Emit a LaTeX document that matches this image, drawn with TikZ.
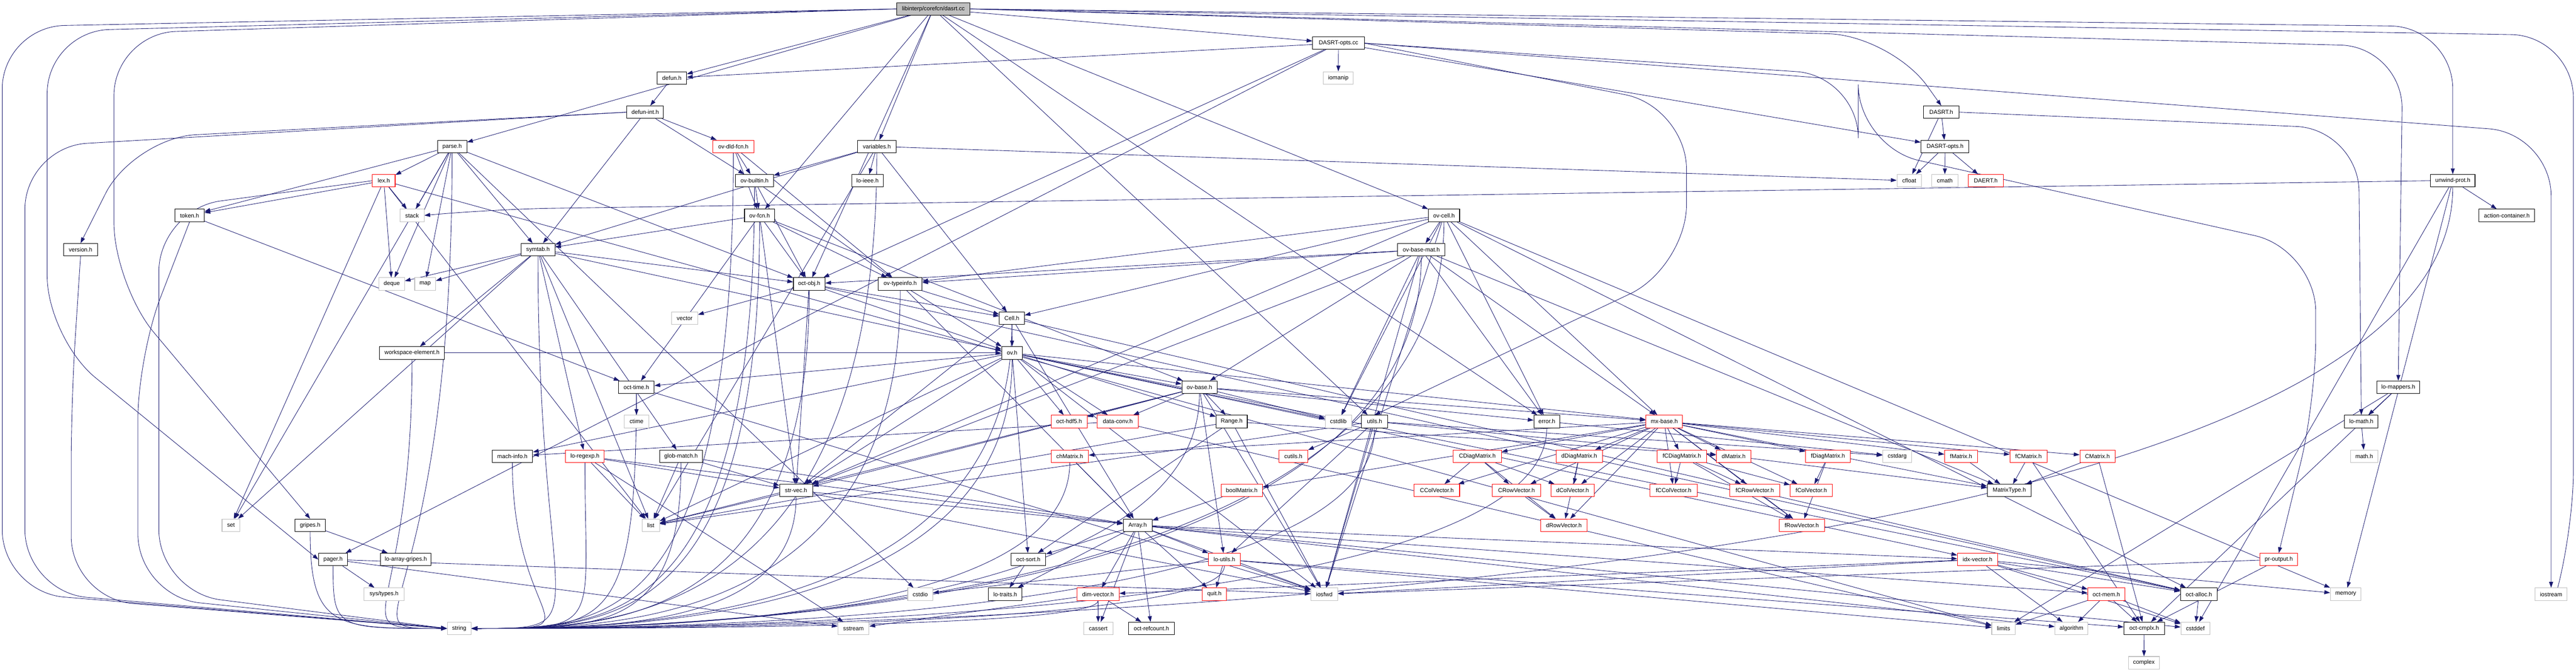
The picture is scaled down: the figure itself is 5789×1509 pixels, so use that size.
\documentclass[tikz,border=0pt]{standalone}
\usepackage{fontspec}
\setmainfont{Liberation Sans}
\usetikzlibrary{arrows.meta}
\pgfdeclarelayer{background}
\pgfsetlayers{background,main}
\definecolor{edgeblue}{HTML}{191970}
\definecolor{extgray}{HTML}{BFBFBF}
\tikzset{
  nbox/.style={draw=black, line width=1.2pt, fill=white, minimum height=28pt, inner sep=0pt, font=\fontsize{13}{15}\selectfont},
  extbox/.style={nbox, draw=extgray},
  redbox/.style={nbox, draw=red},
  rootbox/.style={nbox, fill=extgray},
  edge/.style={draw=edgeblue, line width=1pt, -{Triangle[length=13pt,width=9pt]}},
  route/.style={edge, rounded corners=140pt},
}
\newcommand\gnode[6]{\node[#1, minimum width={(#4-#3)*1pt}] (#2) at ({(#3+#4)/2},-#5) {#6};}
\newcommand\links[2]{\foreach \tgt in {#2}{\draw[edge] (#1) -- (\tgt);}}
\newcommand\tostr[3]{\foreach \src in {#1}{\draw[edge] (\src.south) .. controls (\src.south |- string.#2) and ([xshift=#3pt]string.#2) .. (string.#2);}}
\begin{document}
\begin{tikzpicture}[x=1pt,y=1pt]
\useasboundingbox (0,0) rectangle (5789,-1509);
\gnode{rootbox}{root}{2015}{2180}{20}{libinterp/corefcn/dasrt.cc}
\gnode{nbox}{dopcc}{2950}{3066}{97}{DASRT-opts.cc}
\gnode{nbox}{defun}{1477}{1543}{175}{defun.h}
\gnode{extbox}{iomanip}{2974}{3041}{175}{iomanip}
\gnode{nbox}{defunint}{1409}{1491}{252}{defun-int.h}
\gnode{nbox}{dasrth}{4323}{4402}{252}{DASRT.h}
\gnode{nbox}{parse}{983}{1049}{329}{parse.h}
\gnode{redbox}{ovdld}{1602}{1694}{329}{ov-dld-fcn.h}
\gnode{nbox}{variables}{1927}{2014}{329}{variables.h}
\gnode{nbox}{dasrtopts}{4317}{4425}{329}{DASRT-opts.h}
\gnode{redbox}{lex}{837}{888}{406}{lex.h}
\gnode{nbox}{ovbuiltin}{1653}{1738}{406}{ov-builtin.h}
\gnode{nbox}{loieee}{1914}{1985}{406}{lo-ieee.h}
\gnode{extbox}{cfloat}{4263}{4318}{406}{cfloat}
\gnode{extbox}{cmath}{4341}{4400}{406}{cmath}
\gnode{redbox}{daert}{4423}{4502}{406}{DAERT.h}
\gnode{nbox}{unwind}{5462}{5562}{406}{unwind-prot.h}
\gnode{nbox}{token}{393}{459}{484}{token.h}
\gnode{extbox}{stack}{899}{953}{484}{stack}
\gnode{nbox}{ovfcn}{1673}{1741}{484}{ov-fcn.h}
\gnode{nbox}{ovcell}{3210}{3280}{484}{ov-cell.h}
\gnode{nbox}{actioncont}{5571}{5696}{484}{action-container.h}
\gnode{nbox}{version}{143}{219}{561}{version.h}
\gnode{nbox}{symtab}{1171}{1247}{561}{symtab.h}
\gnode{nbox}{ovbasemat}{3141}{3247}{561}{ov-base-mat.h}
\gnode{extbox}{deque}{852}{909}{638}{deque}
\gnode{extbox}{map}{932}{979}{638}{map}
\gnode{nbox}{octobj}{1783}{1854}{638}{oct-obj.h}
\gnode{nbox}{ovtypeinfo}{1974}{2072}{638}{ov-typeinfo.h}
\gnode{extbox}{vector}{1509}{1568}{715}{vector}
\gnode{nbox}{cell}{2246}{2302}{715}{Cell.h}
\gnode{nbox}{wselem}{853}{999}{793}{workspace-element.h}
\gnode{nbox}{ov}{2251}{2298}{793}{ov.h}
\gnode{nbox}{octtime}{1390}{1470}{870}{oct-time.h}
\gnode{nbox}{ovbase}{2656}{2735}{870}{ov-base.h}
\gnode{nbox}{lomappers}{5341}{5438}{870}{lo-mappers.h}
\gnode{extbox}{ctime}{1403}{1458}{947}{ctime}
\gnode{redbox}{octhdf5}{2362}{2443}{947}{oct-hdf5.h}
\gnode{redbox}{dataconv}{2466}{2558}{947}{data-conv.h}
\gnode{nbox}{range}{2733}{2803}{947}{Range.h}
\gnode{extbox}{cstdlib}{2978}{3037}{947}{cstdlib}
\gnode{nbox}{utils}{3060}{3118}{947}{utils.h}
\gnode{nbox}{error}{3447}{3505}{947}{error.h}
\gnode{redbox}{mxbase}{3699}{3781}{947}{mx-base.h}
\gnode{nbox}{lomath}{5269}{5344}{947}{lo-math.h}
\gnode{nbox}{machinfo}{1106}{1197}{1025}{mach-info.h}
\gnode{redbox}{loregexp}{1271}{1358}{1025}{lo-regexp.h}
\gnode{nbox}{globmatch}{1482}{1579}{1025}{glob-match.h}
\gnode{redbox}{chmatrix}{2362}{2446}{1025}{chMatrix.h}
\gnode{redbox}{cutils}{2874}{2939}{1025}{cutils.h}
\gnode{redbox}{cdiag}{3266}{3374}{1025}{CDiagMatrix.h}
\gnode{redbox}{ddiag}{3497}{3601}{1025}{dDiagMatrix.h}
\gnode{redbox}{fcdiag}{3724}{3835}{1025}{fCDiagMatrix.h}
\gnode{redbox}{dmatrix}{3857}{3935}{1025}{dMatrix.h}
\gnode{redbox}{fdiag}{4058}{4158}{1025}{fDiagMatrix.h}
\gnode{extbox}{cstdarg}{4231}{4296}{1025}{cstdarg}
\gnode{redbox}{fmatrix}{4370}{4444}{1025}{fMatrix.h}
\gnode{redbox}{fcmatrix}{4517}{4600}{1025}{fCMatrix.h}
\gnode{redbox}{cmatrix}{4674}{4753}{1025}{CMatrix.h}
\gnode{extbox}{mathh}{5282}{5344}{1025}{math.h}
\gnode{nbox}{strvec}{1752}{1826}{1102}{str-vec.h}
\gnode{redbox}{boolmatrix}{2744}{2837}{1102}{boolMatrix.h}
\gnode{redbox}{ccol}{3178}{3280}{1102}{CColVector.h}
\gnode{redbox}{crow}{3354}{3462}{1102}{CRowVector.h}
\gnode{redbox}{dcol}{3485}{3583}{1102}{dColVector.h}
\gnode{redbox}{fccol}{3708}{3814}{1102}{fCColVector.h}
\gnode{redbox}{fcrow}{3887}{4000}{1102}{fCRowVector.h}
\gnode{redbox}{fcol}{4023}{4118}{1102}{fColVector.h}
\gnode{nbox}{matrixtype}{4466}{4565}{1102}{MatrixType.h}
\gnode{extbox}{set}{499}{539}{1180}{set}
\gnode{nbox}{gripes}{663}{731}{1180}{gripes.h}
\gnode{extbox}{list}{1443}{1482}{1180}{list}
\gnode{nbox}{array}{2524}{2589}{1180}{Array.h}
\gnode{redbox}{drow}{3462}{3567}{1180}{dRowVector.h}
\gnode{redbox}{frow}{3998}{4100}{1180}{fRowVector.h}
\gnode{nbox}{pager}{716}{781}{1257}{pager.h}
\gnode{nbox}{loarraygripes}{855}{969}{1257}{lo-array-gripes.h}
\gnode{nbox}{octsort}{2272}{2350}{1257}{oct-sort.h}
\gnode{redbox}{loutils}{2716}{2787}{1257}{lo-utils.h}
\gnode{redbox}{idxvector}{4399}{4489}{1257}{idx-vector.h}
\gnode{redbox}{proutput}{5079}{5163}{1257}{pr-output.h}
\gnode{extbox}{systypes}{818}{908}{1335}{sys/types.h}
\gnode{extbox}{cstdio}{2040}{2096}{1335}{cstdio}
\gnode{nbox}{lotraits}{2221}{2297}{1335}{lo-traits.h}
\gnode{redbox}{dimvector}{2420}{2515}{1335}{dim-vector.h}
\gnode{redbox}{quit}{2702}{2756}{1335}{quit.h}
\gnode{extbox}{iosfwd}{2946}{3006}{1335}{iosfwd}
\gnode{redbox}{octmem}{4692}{4775}{1335}{oct-mem.h}
\gnode{nbox}{octalloc}{4900}{4983}{1335}{oct-alloc.h}
\gnode{extbox}{memory}{5237}{5306}{1335}{memory}
\gnode{extbox}{iostream}{5697}{5769}{1335}{iostream}
\gnode{extbox}{string}{1005}{1059}{1412}{string}
\gnode{extbox}{sstream}{1883}{1953}{1412}{sstream}
\gnode{extbox}{cassert}{2435}{2501}{1412}{cassert}
\gnode{nbox}{octrefcount}{2536}{2639}{1412}{oct-refcount.h}
\gnode{extbox}{limits}{4476}{4529}{1412}{limits}
\gnode{extbox}{algorithm}{4618}{4692}{1412}{algorithm}
\gnode{nbox}{octcmplx}{4773}{4864}{1412}{oct-cmplx.h}
\gnode{extbox}{cstddef}{4901}{4966}{1412}{cstddef}
\gnode{extbox}{complex}{4783}{4853}{1489}{complex}
\begin{pgfonlayer}{background}
% long routed connectors
\draw[route] (root.west) -- (5,-60) -- (5,-1330) -- (string.west);
\draw[route] (root.west) -- (106,-70) -- (106,-760) -- (pager.west);
\draw[route] (root.west) -- (256,-75) -- (256,-640) -- (gripes.north);
\draw[route] (defunint.west) -- (56,-330) -- (56,-1330) -- (string.west);
\draw[route] (defunint.west) -- (300,-310) -- (version.north);
\draw[route] (lex.west) -- (357,-470) -- (357,-1330) -- (string.west);
\draw[route] (token.south) -- (310,-800) -- (310,-1340) -- (string.west);
\draw[route] (version.south) -- (160,-900) -- (160,-1345) -- (string.west);
\draw[route] (root.east) -- (5512,-60) -- (unwind.north);
\draw[route] (root.east) -- (5783,-80) -- (5783,-1200) -- ([xshift=15pt]iostream.north);
\draw[route] (dopcc.east) -- (5733,-300) -- (iostream.north);
\draw[route] (root.east) -- (5400,-105) -- (lomappers.north);
\draw[route] (root.east) -- (4250,-80) -- (dasrth.north);
\draw[route] (dasrth.east) -- (5300,-290) -- (lomath.north);
\draw[route] (dopcc.east) -- (4176,-170) -- (4176,-330) -- (5204,-560) -- (5204,-900) -- (proutput.north);
\draw[route] (dopcc.east) -- (3790,-240) -- (3790,-600) -- (utils.north);
\draw[route] (unwind.west) -- (1100,-470) -- (stack.east);
% connectors into string
\tostr{parse,wselem,gripes,pager}{west}{-250}
\tostr{ovdld,variables,ovbuiltin,ovfcn,ovcell,symtab,ovbasemat,octobj,ovtypeinfo,cell,ov,octtime,ovbase,utils,error,machinfo,loregexp,globmatch,chmatrix,strvec,loutils,dimvector,unwind}{east}{300}
% plain connectors
\links{root}{defun,error,octobj,ovfcn,ovcell,parse,utils,variables,dopcc}
\links{dopcc}{iomanip,dasrtopts,defun,octobj,pager}
\links{defun}{defunint}
\links{defunint}{ovdld,ovbuiltin,symtab}
\links{dasrth}{cfloat,dasrtopts}
\links{parse}{lex,token,stack,deque,map,set,cstdio,symtab,octobj}
\links{ovdld}{ovbuiltin,ovfcn,ovtypeinfo}
\links{variables}{loieee,ovbuiltin,cfloat,symtab,list,cell}
\links{dasrtopts}{cfloat,cmath,daert}
\links{lex}{token,stack,deque,set,list,limits}
\links{ovbuiltin}{ovfcn,ovtypeinfo,octobj}
\links{unwind}{actioncont,cstddef,memory}
\links{token}{octtime}
\links{ovfcn}{symtab,octobj,ovtypeinfo,octtime,strvec,ovbase}
\links{ovcell}{ovbasemat,cell,ovtypeinfo,strvec,mxbase,error,octalloc,memory,cstdlib,iosfwd}
\links{symtab}{deque,map,set,list,globmatch,loregexp,octobj,ov,wselem}
\links{ovbasemat}{mxbase,strvec,matrixtype,error,octobj,ovbase,ovtypeinfo,cstdlib,iosfwd}
\links{octobj}{vector,octalloc,strvec,cell,ov}
\links{ovtypeinfo}{cell,array,ov}
\links{cell}{array,octalloc,strvec,ov}
\links{wselem}{ov}
\links{ov}{cstdlib,iosfwd,list,range,dataconv,idxvector,machinfo,mxbase,octalloc,octtime,strvec,octhdf5,octsort,ovbase}
\links{octtime}{ctime,iosfwd}
\links{ovbase}{cstdlib,iosfwd,list,range,dataconv,mxbase,strvec,error,octhdf5,loutils}
\links{lomappers}{lomath,octcmplx,limits}
\links{dataconv}{machinfo,limits}
\links{range}{octsort,dmatrix,iosfwd,list}
\links{utils}{cutils,iosfwd,list,cstdarg,dmatrix,loutils}
\links{error}{cstdarg}
\links{mxbase}{matrixtype,boolmatrix,chmatrix,dcol,drow,dmatrix,ddiag,ccol,crow,cmatrix,cdiag,fcol,frow,fmatrix,fdiag,fccol,fcrow,fcmatrix,fcdiag}
\links{lomath}{mathh}
\links{loregexp}{list,sstream,strvec,array}
\links{globmatch}{strvec,array,list}
\links{chmatrix}{array}
\links{cdiag}{ccol,crow,dcol,drow}
\links{ddiag}{dcol,drow}
\links{fcdiag}{fccol,fcrow,fcol,frow}
\links{dmatrix}{matrixtype}
\links{fdiag}{fcol,frow}
\links{fmatrix}{matrixtype}
\links{fcmatrix}{matrixtype,octcmplx}
\links{cmatrix}{matrixtype,octcmplx}
\links{strvec}{iosfwd,list,array}
\links{boolmatrix}{array}
\links{crow}{drow}
\links{fcrow}{frow}
\links{gripes}{loarraygripes}
\links{array}{cassert,cstddef,algorithm,iosfwd,dimvector,idxvector,lotraits,loutils,octsort,quit,octmem,octrefcount}
\links{pager}{iosfwd,sstream,systypes}
\links{octsort}{lotraits}
\links{loutils}{cstdio,iosfwd,limits,quit,octcmplx}
\links{idxvector}{cstddef,algorithm,iosfwd,memory,dimvector,octalloc,octmem}
\links{proutput}{iosfwd,octcmplx}
\links{dimvector}{cassert,sstream,octrefcount}
\links{octmem}{cstddef,limits,algorithm,octcmplx}
\links{octalloc}{cstddef}
\links{octcmplx}{complex}
\end{pgfonlayer}
\end{tikzpicture}
\end{document}
